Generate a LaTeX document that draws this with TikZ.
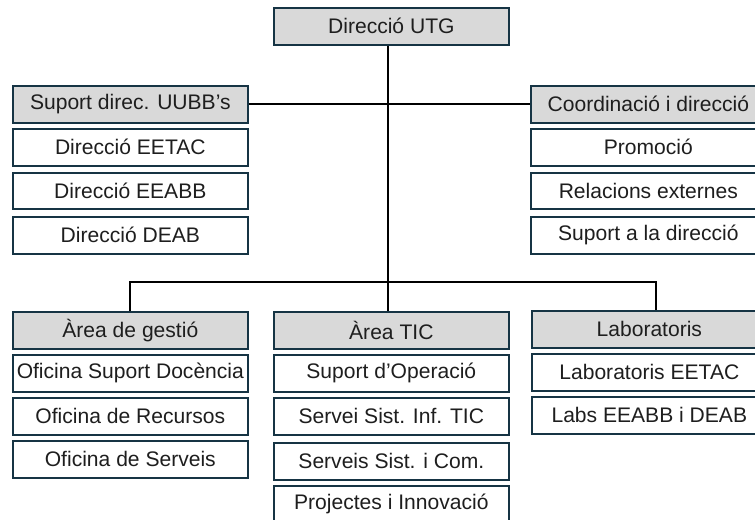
\documentclass[tikz,border=0pt]{standalone}
\usepackage{fontspec}
\setmainfont{Liberation Sans}
\definecolor{bord}{RGB}{22,52,68}
\definecolor{head}{RGB}{217,217,217}
\definecolor{txt}{RGB}{30,30,30}
\begin{document}
\begin{tikzpicture}[x=0.75pt,y=-0.75pt,
  box/.style={draw=bord,line width=1.5pt,fill=white,minimum width=176pt,minimum height=27.5pt,
    anchor=north west,inner sep=0pt,text=txt,font=\fontsize{15.8}{18}\selectfont},
  hbox/.style={box,fill=head},
  conn/.style={draw=black,line width=1.5pt}]
\useasboundingbox (0,0) rectangle (755,519);
\clip (0,0) rectangle (755,519);
% top
\node[hbox] (utg) at (273,7) {Direcció UTG};
% left group
\node[hbox] (sup) at (12,85) {Suport direc. UUBB’s};
\node[box] (eetac) at (12,128) {Direcció EETAC};
\node[box] (eeabb) at (12,171.5) {Direcció EEABB};
\node[box] (deab) at (12,216) {Direcció DEAB};
% right group
\node[hbox] (coord) at (530,85) {Coordinació i direcció};
\node[box] (prom) at (530,128) {Promoció};
\node[box] (rel) at (530,171.5) {Relacions externes};
\node[box] (supd) at (530,216) {Suport a la direcció};
% bottom left
\node[hbox] (gest) at (12,311) {Àrea de gestió};
\node[box] (osd) at (12,354) {Oficina Suport Docència};
\node[box] (orec) at (12,397) {Oficina de Recursos};
\node[box] (oser) at (12,440) {Oficina de Serveis};
% bottom middle
\node[hbox] (tic) at (273,311) {Àrea TIC};
\node[box] (sop) at (273,354) {Suport d’Operació};
\node[box] (ssi) at (273,397) {Servei Sist. Inf. TIC};
\node[box] (ssc) at (273,442) {Serveis Sist. i Com.};
\node[box] (pin) at (273,485) {Projectes i Innovació};
% bottom right
\node[hbox] (lab) at (531,310) {Laboratoris};
\node[box] (labe) at (531,353) {Laboratoris EETAC};
\node[box] (labd) at (531,396) {Labs EEABB i DEAB};
% connectors
\coordinate (bus) at (388,282);
\coordinate (labdrop) at (656,310);
\draw[conn] (utg.south -| bus) -- (tic.north -| bus);
\draw[conn] (sup.east) -- (coord.west);
\draw[conn] (gest.north) -- (gest.north |- bus) -- (labdrop |- bus) -- (labdrop);
\end{tikzpicture}
\end{document}
